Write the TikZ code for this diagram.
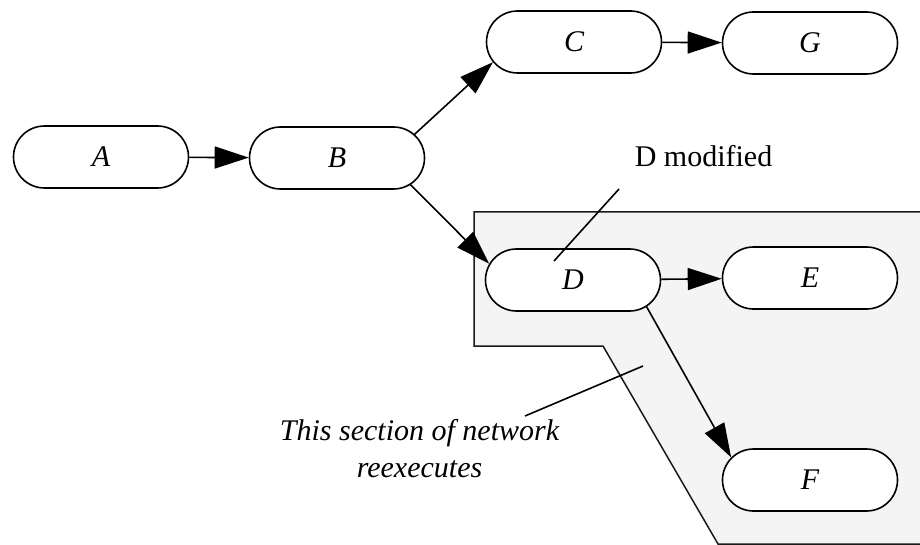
\documentclass[tikz,border=0pt]{standalone}
\usepackage{fontspec}
\setmainfont{Liberation Serif}
\usetikzlibrary{shapes.misc,arrows.meta}
\definecolor{regionfill}{HTML}{F4F4F4}
\definecolor{regionline}{HTML}{1A1A1A}
\tikzset{
  proc/.style={rounded rectangle, draw=black, line width=1.6pt, fill=white,
    minimum width=175pt, minimum height=62pt, inner sep=0pt,
    font=\fontsize{30}{36}\selectfont\itshape},
  flow/.style={line width=1.6pt, -{Triangle[length=34pt,width=22pt]}},
  note/.style={line width=1.6pt},
  lbl/.style={inner sep=0pt, anchor=base, font=\fontsize{30}{37}\selectfont}
}
\begin{document}
\begin{tikzpicture}[x=1pt,y=-1pt]
\useasboundingbox (0,0) rectangle (920,545);
\clip (0,0) rectangle (920,545);
\fill[white] (0,0) rectangle (920,545);
% region that reexecutes
\draw[fill=regionfill, draw=regionline, line width=1.5pt]
  (474,212) -- (940,212) -- (940,544) -- (718,544) -- (603,346) -- (474,346) -- cycle;
% nodes
\node[proc] (A) at (101,157) {A};
\node[proc] (B) at (337,158) {B};
\node[proc] (C) at (574,42) {C};
\node[proc] (G) at (810,43) {G};
\node[proc] (D) at (573,280) {D};
\node[proc] (E) at (810,278) {E};
\node[proc] (F) at (810,480) {F};
% connectors
\draw[flow] (A) -- (B);
\draw[flow] (B.17) -- (C.194);
\draw[flow] (B.-20) -- (D.169);
\draw[flow] (C) -- (G);
\draw[flow] (D) -- (E);
\draw[flow] (D.-20) -- (F.164);
% annotations
\node[lbl] (dmod) at (703.5,167) {D modified};
\coordinate (dmodA) at (619,189);
\coordinate (dmodB) at (554,261);
\draw[note] (dmodA) -- (dmodB);
\node[lbl, font=\fontsize{30}{37}\selectfont\itshape] (sec1) at (419.5,440) {This section of network};
\node[lbl, font=\fontsize{30}{37}\selectfont\itshape] (sec2) at (419.5,477) {reexecutes};
\coordinate (secA) at (525,416);
\coordinate (secB) at (643,366);
\draw[note] (secA) -- (secB);
\end{tikzpicture}
\end{document}
